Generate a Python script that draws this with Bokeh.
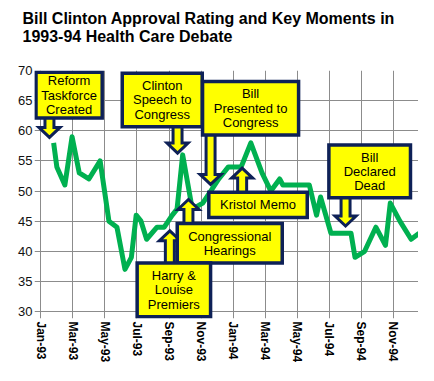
import math
from bokeh.plotting import figure
from bokeh.models import Range1d, FixedTicker, PolyAnnotation, Label, Title
from bokeh.embed import file_html
from bokeh.resources import INLINE

# ---------------- data ----------------
title_lines = ["Bill Clinton Approval Rating and Key Moments in",
               "1993-94 Health Care Debate"]

# months since Jan-1993
months = [0.8, 1.0, 1.5, 1.95, 2.4, 3.0, 3.7, 4.25, 4.75, 5.25, 5.65, 5.95,
          6.25, 6.6, 7.25, 7.7, 8.2, 8.5, 8.85, 9.45, 10.1, 10.6, 11.1, 11.7,
          12.5, 13.1, 13.8, 14.35, 14.9, 15.1, 16.75, 17.2, 17.45, 18.1, 19.35,
          19.6, 20.2, 20.9, 21.5, 21.8, 22.4, 23.1, 23.6]
approval = [58, 54, 51, 59, 53, 52, 55, 45, 44, 37, 39, 46,
            45, 42, 44, 44, 46, 47, 56, 47, 48, 50, 52, 54,
            54, 58, 53, 50, 52, 51, 51, 46, 49, 43, 43,
            39, 40, 44, 41, 48, 45, 42, 43]

x_tick_pos = [0, 2, 4, 6, 8, 10, 12, 14, 16, 18, 20, 22]
x_tick_labels = ["Jan-93", "Mar-93", "May-93", "Jul-93", "Sep-93", "Nov-93",
                 "Jan-94", "Mar-94", "May-94", "Jul-94", "Sep-94", "Nov-94"]
y_ticks = [30, 35, 40, 45, 50, 55, 60, 65, 70]

event_labels = ["Reform\nTaskforce\nCreated",
                "Clinton\nSpeech to\nCongress",
                "Bill\nPresented to\nCongress",
                "Kristol Memo",
                "Congressional\nHearings",
                "Harry &\nLouise\nPremiers",
                "Bill\nDeclared\nDead"]
event_x = [0.54, 8.53, 10.59, 12.56, 9.21, 8.05, 19.01]
event_tip = [58.9, 56.3, 51.1, 53.8, 48.6, 43.4, 44.2]

# callout box placement (left, right, top, bottom) in data units
box_left = [-0.30, 5.08, 10.09, 10.48, 8.51, 6.01, 17.97]
box_right = [3.83, 10.07, 16.08, 16.62, 15.06, 10.59, 23.06]
box_top = [69.70, 69.56, 68.19, 49.80, 44.60, 38.07, 57.65]
box_bottom = [62.10, 60.67, 59.30, 45.59, 38.07, 29.13, 48.88]

# ---------------- styles ----------------
GREEN = "#00B050"
NAVY = "#0E2157"
YELLOW = "#FFFF00"
GRID = "#8C8C8C"

p = figure(width=418, height=365, output_backend="svg", toolbar_location=None,
           title=None, x_range=Range1d(-0.393, 23.56), y_range=Range1d(28.85, 70),
           min_border_left=34, min_border_right=0, min_border_top=70,
           min_border_bottom=45, background_fill_color="white",
           border_fill_color="white", outline_line_color=None)

TFONT = dict(text_font="Liberation Sans", text_font_size="16px",
             text_font_style="bold", text_color="black", offset=-12)
p.add_layout(Title(text=" ", standoff=6.6, **TFONT), "above")
p.add_layout(Title(text=title_lines[1], standoff=0, **TFONT), "above")
p.add_layout(Title(text=title_lines[0], standoff=-3, **TFONT), "above")

p.xgrid.ticker = FixedTicker(ticks=x_tick_pos)
p.ygrid.ticker = FixedTicker(ticks=y_ticks)
for g in (p.xgrid, p.ygrid):
    g.grid_line_color = GRID
    g.grid_line_width = 1

p.xaxis.ticker = FixedTicker(ticks=x_tick_pos)
p.xaxis.major_label_overrides = {t: l for t, l in zip(x_tick_pos, x_tick_labels)}
p.xaxis.major_label_orientation = -math.pi / 2
p.xaxis.major_label_text_font = "Liberation Sans"
p.xaxis.major_label_text_font_style = "bold"
p.xaxis.major_label_text_font_size = "12px"
p.xaxis.major_label_text_color = "black"
p.xaxis.major_label_standoff = 3
p.yaxis.ticker = FixedTicker(ticks=y_ticks)
p.yaxis.major_label_text_font = "Liberation Sans"
p.yaxis.major_label_text_font_size = "13px"
p.yaxis.major_label_text_color = "#111111"
p.yaxis.major_label_standoff = 2
for ax in (p.xaxis, p.yaxis):
    ax.axis_line_color = None
    ax.major_tick_line_color = None
    ax.major_tick_in = 0
    ax.major_tick_out = 0
    ax.minor_tick_line_color = None

p.line(months, approval, line_color=GREEN, line_width=5, line_join="round")

# callouts: arrows, then boxes, then text
SW, HW, HL = 0.28, 0.655, 1.65  # shaft half-width, head half-width (months), head length (pts)
for i in range(len(event_labels)):
    x = event_x[i]
    tip = event_tip[i]
    if tip > box_top[i]:
        base, d = box_top[i] - 0.5, 1
    else:
        base, d = box_bottom[i] + 0.5, -1
    neck = tip - d * HL
    xs = [x - SW, x + SW, x + SW, x + HW, x, x - HW, x - SW]
    ys = [base, base, neck, neck, tip, neck, neck]
    p.add_layout(PolyAnnotation(xs=xs, ys=ys, fill_color=YELLOW, fill_alpha=1,
                                line_color=NAVY, line_width=3, line_alpha=1,
                                line_join="miter"))

for i in range(len(event_labels)):
    l, r, t, b = box_left[i], box_right[i], box_top[i], box_bottom[i]
    p.add_layout(PolyAnnotation(xs=[l, r, r, l], ys=[t, t, b, b],
                                fill_color=YELLOW, fill_alpha=1,
                                line_color=NAVY, line_width=3.5, line_alpha=1,
                                line_join="miter"))
    p.add_layout(Label(x=(l + r) / 2, y=(t + b) / 2,
                       text=event_labels[i], text_align="center",
                       text_baseline="middle", text_font="Liberation Sans",
                       text_font_size="13px", text_color="black",
                       text_line_height=0.95))

open("out.html", "w").write(file_html(p, INLINE))
